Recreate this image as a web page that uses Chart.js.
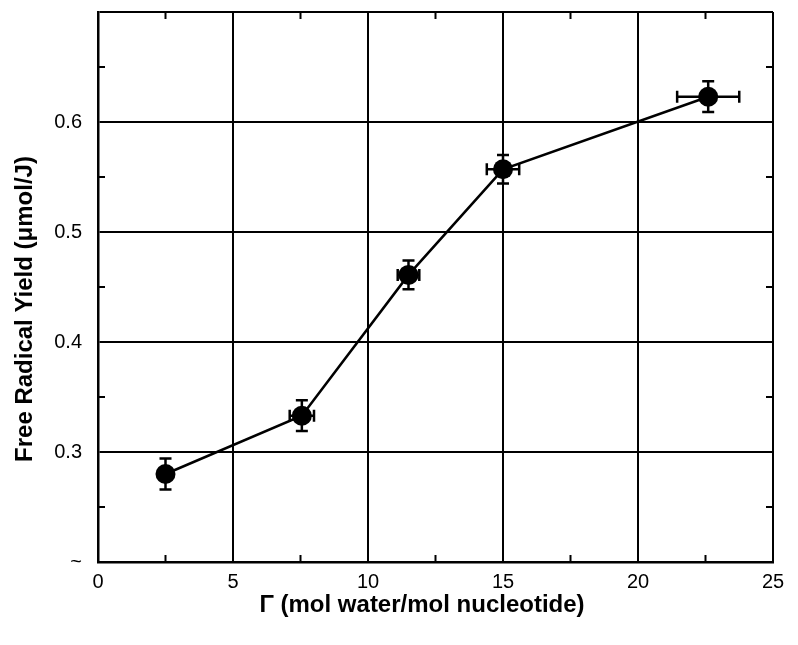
<!DOCTYPE html>
<html>
<head>
<meta charset="utf-8">
<script src="https://cdn.jsdelivr.net/npm/chart.js@4.4.1/dist/chart.umd.min.js"></script>
<style>
  html, body { margin: 0; padding: 0; background: #fff; }
  #wrap { width: 798px; height: 645px; }
</style>
</head>
<body>
<div id="wrap"><canvas id="yieldChart" width="798" height="645"></canvas></div>
<script>
// Data
const hydration = [2.5, 7.55, 11.5, 15.0, 22.6];      // Gamma (mol water / mol nucleotide)
const radicalYield = [0.280, 0.333, 0.461, 0.557, 0.623]; // umol/J
const yieldErr = [0.014, 0.014, 0.013, 0.013, 0.014];
const hydrationErr = [0, 0.45, 0.4, 0.6, 1.15];
const xTicks = [0, 5, 10, 15, 20, 25];
const yTicks = [0.2, 0.3, 0.4, 0.5, 0.6, 0.7];
const xMinor = [2.5, 7.5, 12.5, 17.5, 22.5];
const yMinor = [0.25, 0.35, 0.45, 0.55, 0.65];
const xTitle = 'Γ (mol water/mol nucleotide)';
const yTitle = 'Free Radical Yield (μmol/J)';

const FONT = "'Liberation Sans', Arial, sans-serif";

// error bars, inward minor ticks, axis titles
const extras = {
    id: 'extras',
    beforeDatasetsDraw(chart) {
        const ctx = chart.ctx;
        const xs = chart.scales.x, ys = chart.scales.y;
        ctx.save();
        ctx.strokeStyle = '#000';
        ctx.lineWidth = 2.5;
        const cap = 6;
        hydration.forEach((xv, i) => {
            const px = xs.getPixelForValue(xv);
            const py = ys.getPixelForValue(radicalYield[i]);
            const yTop = ys.getPixelForValue(radicalYield[i] + yieldErr[i]);
            const yBot = ys.getPixelForValue(radicalYield[i] - yieldErr[i]);
            ctx.beginPath();
            ctx.moveTo(px, yTop); ctx.lineTo(px, yBot);
            ctx.moveTo(px - cap, yTop); ctx.lineTo(px + cap, yTop);
            ctx.moveTo(px - cap, yBot); ctx.lineTo(px + cap, yBot);
            ctx.stroke();
            if (hydrationErr[i] > 0) {
                const xL = xs.getPixelForValue(xv - hydrationErr[i]);
                const xR = xs.getPixelForValue(xv + hydrationErr[i]);
                ctx.beginPath();
                ctx.moveTo(xL, py); ctx.lineTo(xR, py);
                ctx.moveTo(xL, py - cap); ctx.lineTo(xL, py + cap);
                ctx.moveTo(xR, py - cap); ctx.lineTo(xR, py + cap);
                ctx.stroke();
            }
        });
        ctx.restore();
    },
    afterDraw(chart) {
        const ctx = chart.ctx;
        const a = chart.chartArea;
        const xs = chart.scales.x, ys = chart.scales.y;
        const len = 7;
        ctx.save();
        ctx.strokeStyle = '#000';
        ctx.lineWidth = 2;
        ctx.beginPath();
        xMinor.forEach(v => {
            const px = xs.getPixelForValue(v);
            ctx.moveTo(px, a.bottom); ctx.lineTo(px, a.bottom - len);
            ctx.moveTo(px, a.top); ctx.lineTo(px, a.top + len);
        });
        yMinor.forEach(v => {
            const py = ys.getPixelForValue(v);
            ctx.moveTo(a.left, py); ctx.lineTo(a.left + len, py);
            ctx.moveTo(a.right, py); ctx.lineTo(a.right - len, py);
        });
        ctx.stroke();

        ctx.fillStyle = '#000';
        ctx.font = 'bold 24px ' + FONT;
        ctx.textAlign = 'center';
        ctx.textBaseline = 'middle';
        // titles are a bit off-centre in the original
        ctx.fillText(xTitle, 422, 605);
        ctx.translate(25, 309);
        ctx.rotate(-Math.PI / 2);
        ctx.fillText(yTitle, 0, 0);
        ctx.restore();
    }
};

new Chart(document.getElementById('yieldChart'), {
    type: 'scatter',
    data: {
        datasets: [{
            data: hydration.map((x, i) => ({ x: x, y: radicalYield[i] })),
            showLine: true,
            borderColor: '#000',
            borderWidth: 2.5,
            backgroundColor: '#000',
            pointRadius: 10,
            pointHoverRadius: 10,
            pointBorderWidth: 0,
            tension: 0
        }]
    },
    options: {
        responsive: false,
        animation: false,
        events: [],
        layout: { padding: { left: 0, right: 25, top: 12, bottom: 0 } },
        plugins: {
            legend: { display: false },
            tooltip: { enabled: false }
        },
        scales: {
            x: {
                type: 'linear',
                min: 0,
                max: 25,
                afterBuildTicks: s => { s.ticks = xTicks.map(v => ({ value: v })); },
                afterFit: s => { s.height = 83; },
                ticks: {
                    color: '#000',
                    padding: 8,
                    font: { family: FONT, size: 20 },
                    callback: v => String(v)
                },
                grid: { color: '#000', lineWidth: 2, drawTicks: false },
                border: { color: '#000', width: 2.5 },
                title: { display: false }
            },
            y: {
                type: 'linear',
                min: 0.2,
                max: 0.7,
                afterBuildTicks: s => { s.ticks = yTicks.map(v => ({ value: v })); },
                afterFit: s => { s.width = 98; s.paddingTop = 0; s.paddingBottom = 0; },
                ticks: {
                    color: '#000',
                    padding: 16,
                    font: { family: FONT, size: 20 },
                    callback: v => {
                        if (Math.abs(v - 0.2) < 1e-6) return '~';
                        if (Math.abs(v - 0.7) < 1e-6) return '';
                        return v.toFixed(1);
                    }
                },
                grid: { color: '#000', lineWidth: 2, drawTicks: false },
                border: { color: '#000', width: 2.5 },
                title: { display: false }
            }
        }
    },
    plugins: [extras]
});
</script>
</body>
</html>
